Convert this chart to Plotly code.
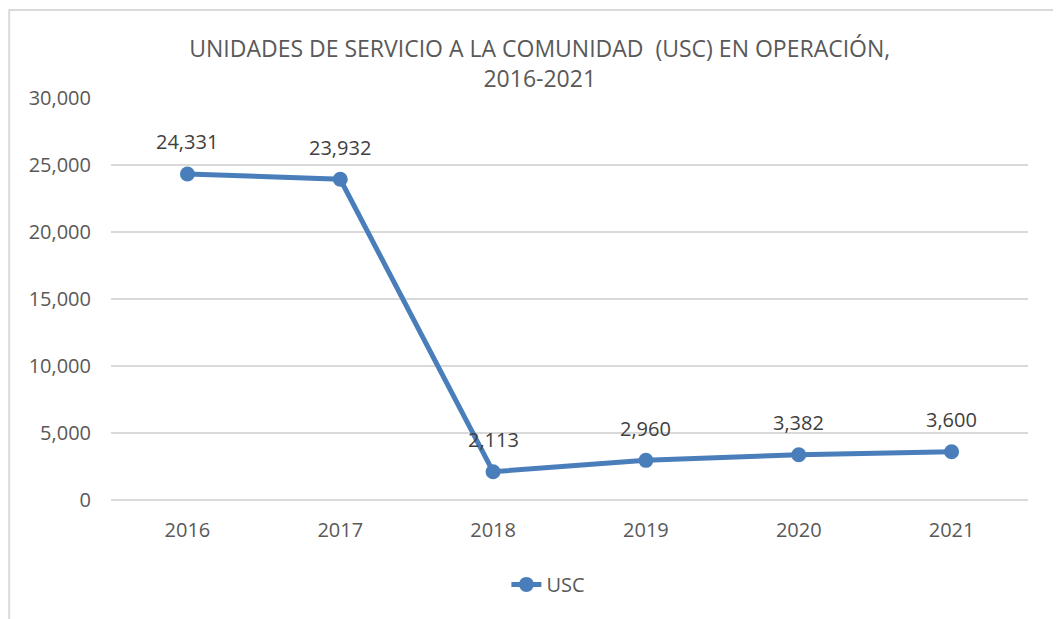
import plotly.graph_objects as go

years = ["2016", "2017", "2018", "2019", "2020", "2021"]
usc = [24331, 23932, 2113, 2960, 3382, 3600]
labels = ["24,331", "23,932", "2,113", "2,960", "3,382", "3,600"]

BLUE = "#4A7EBB"
FONT = "Open Sans, sans-serif"

fig = go.Figure()
fig.add_trace(go.Scatter(
    x=years, y=usc, mode="lines+markers", name="USC",
    line=dict(color=BLUE, width=5),
    marker=dict(color=BLUE, size=15),
))

for i, (y, t) in enumerate(zip(usc, labels)):
    fig.add_annotation(x=i, y=y, text=t, showarrow=False, yshift=32, yanchor="middle",
                       font=dict(family=FONT, size=20, color="#404040"))

fig.update_layout(
    width=1053, height=611,
    paper_bgcolor="white", plot_bgcolor="white",
    margin=dict(l=103, r=33, t=90, b=119),
    title=dict(text="UNIDADES DE SERVICIO A LA COMUNIDAD  (USC) EN OPERACIÓN,<br>2016-2021",
               x=0.505, xanchor="center", y=1 - 49 / 611, yanchor="top",
               font=dict(family=FONT, size=23, color="#595959")),
    showlegend=True,
    legend=dict(orientation="h", x=0.477, xanchor="center", y=-0.21, yanchor="middle",
                font=dict(family=FONT, size=20, color="#595959")),
    xaxis=dict(type="category", range=[-0.5, 5.5], showgrid=False, showline=False,
               ticks="", ticklabelstandoff=16,
               tickfont=dict(family=FONT, size=20, color="#595959")),
    yaxis=dict(range=[0, 30000], dtick=5000, tickformat=",", showgrid=True,
               gridcolor="#D9D9D9", gridwidth=2, zeroline=True, zerolinecolor="#D9D9D9",
               zerolinewidth=2, showline=False, ticks="", ticklabelstandoff=19,
               tickfont=dict(family=FONT, size=20, color="#595959")),
    shapes=[dict(type="rect", xref="paper", yref="paper",
                 x0=-0.111, x1=1.1, y0=-0.5, y1=1.219,
                 line=dict(color="#D9D9D9", width=2), layer="below")],
)

fig.write_html("out.html")
